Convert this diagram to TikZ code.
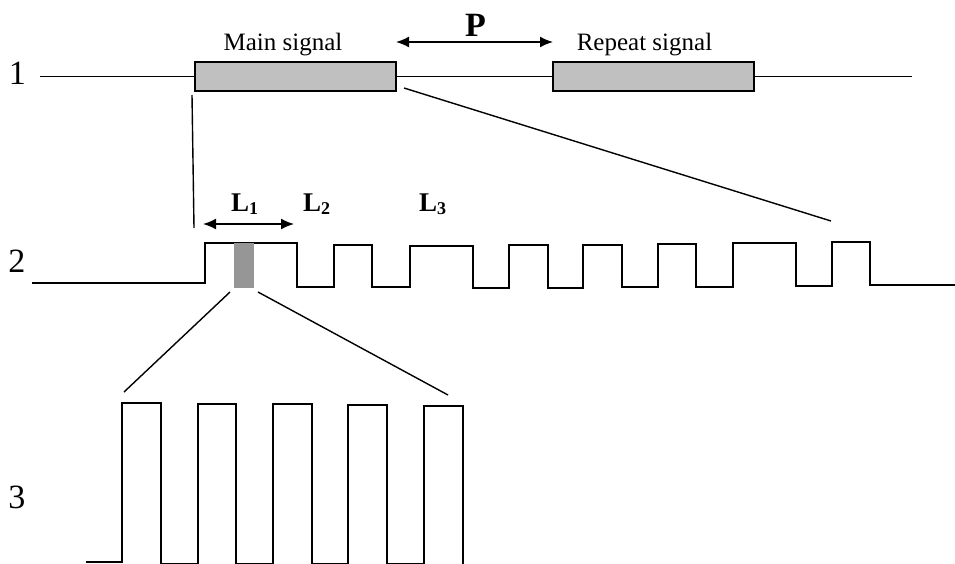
\documentclass[tikz,border=0pt]{standalone}
\usepackage{fontspec}
\setmainfont{Liberation Serif}
\usetikzlibrary{arrows.meta}
\tikzset{
  wire/.style={line width=1.6pt, line join=miter},
  sigbox/.style={draw, line width=1.4pt, fill={rgb,255:red,192;green,192;blue,192}, minimum width=201pt, minimum height=29pt, inner sep=0pt},
  rowlabel/.style={font=\fontsize{34}{40}\selectfont, inner sep=0pt},
  boxlabel/.style={font=\fontsize{25}{30}\selectfont, inner sep=0pt, anchor=base},
  llabel/.style={font=\fontsize{27}{32}\selectfont\bfseries, inner sep=0pt, anchor=base west},
  dimarrow/.style={line width=1.6pt, {Latex[length=13pt,width=11pt]}-{Latex[length=13pt,width=11pt]}},
  zoomline/.style={line width=1.4pt}
}
\newcommand{\mysub}[1]{\raisebox{-3pt}{\fontsize{18}{18}\selectfont\bfseries #1}}
\begin{document}
\begin{tikzpicture}[x=1pt,y=-1pt]
\useasboundingbox (0,0) rectangle (955,563);
% row labels
\node[rowlabel] (n1) at (17.5,73.5) {1};
\node[rowlabel] (n2) at (17,261) {2};
\node[rowlabel] (n3) at (17,497) {3};
% row 1
\node[sigbox] (main) at (295.5,76.5) {};
\node[sigbox] (repeat) at (653.5,76.5) {};
\coordinate (r1start) at (40,76.5);
\coordinate (r1end) at (912,76.5);
\draw[wire] (r1start) -- (main.west);
\draw[wire] (main.east) -- (repeat.west);
\draw[wire] (repeat.east) -- (r1end);
\node[boxlabel] (mainlbl) at (283,50) {Main signal};
\node[boxlabel] (replbl) at (644.5,50) {Repeat signal};
\node[font=\fontsize{34}{40}\selectfont\bfseries, inner sep=0pt, anchor=base] (P) at (475.5,36) {P};
\coordinate (pa) at (396,42);
\coordinate (pb) at (553,42);
\draw[dimarrow] (pa) -- (pb);
% zoom lines row1 -> row2
\coordinate (z1a) at (192,95);
\coordinate (z1b) at (194,228);
\coordinate (z2a) at (404,88);
\coordinate (z2b) at (831,221);
\draw[zoomline] (z1a) -- (z1b);
\draw[zoomline] (z2a) -- (z2b);
% row 2 waveform
\draw[wire] (32,283) -- (205,283) -- (205,243) -- (297,243) -- (297,287) -- (334,287) -- (334,245) -- (372,245) -- (372,287) -- (410,287) -- (410,246) -- (473,246) -- (473,288) -- (509,288) -- (509,245) -- (548,245) -- (548,288) -- (583,288) -- (583,245) -- (622,245) -- (622,287) -- (658,287) -- (658,244) -- (696,244) -- (696,287) -- (733,287) -- (733,243) -- (796,243) -- (796,286) -- (832,286) -- (832,242) -- (870,242) -- (870,285) -- (955,285);
\node[fill={rgb,255:red,150;green,150;blue,150}, minimum width=20pt, minimum height=45pt, inner sep=0pt] (mark) at (244,265.5) {};
\node[llabel] (L1) at (231,211) {L\mysub{1}};
\node[llabel] (L2) at (303,211) {L\mysub{2}};
\node[llabel] (L3) at (419,211) {L\mysub{3}};
\coordinate (la) at (203,224);
\coordinate (lb) at (294,224);
\draw[dimarrow] (la) -- (lb);
% zoom lines row2 -> row3
\coordinate (z3a) at (230,292);
\coordinate (z3b) at (124,392);
\coordinate (z4a) at (258,292);
\coordinate (z4b) at (448,395);
\draw[zoomline] (z3a) -- (z3b);
\draw[zoomline] (z4a) -- (z4b);
% row 3 pulses
\draw[wire] (86,562) -- (122,562) -- (122,403) -- (161,403) -- (161,563.5) -- (198,563.5) -- (198,404) -- (236,404) -- (236,563.5) -- (273,563.5) -- (273,404) -- (312,404) -- (312,563.5) -- (348,563.5) -- (348,405) -- (387,405) -- (387,563.5) -- (424,563.5) -- (424,406) -- (463,406) -- (463,565);
\end{tikzpicture}
\end{document}
